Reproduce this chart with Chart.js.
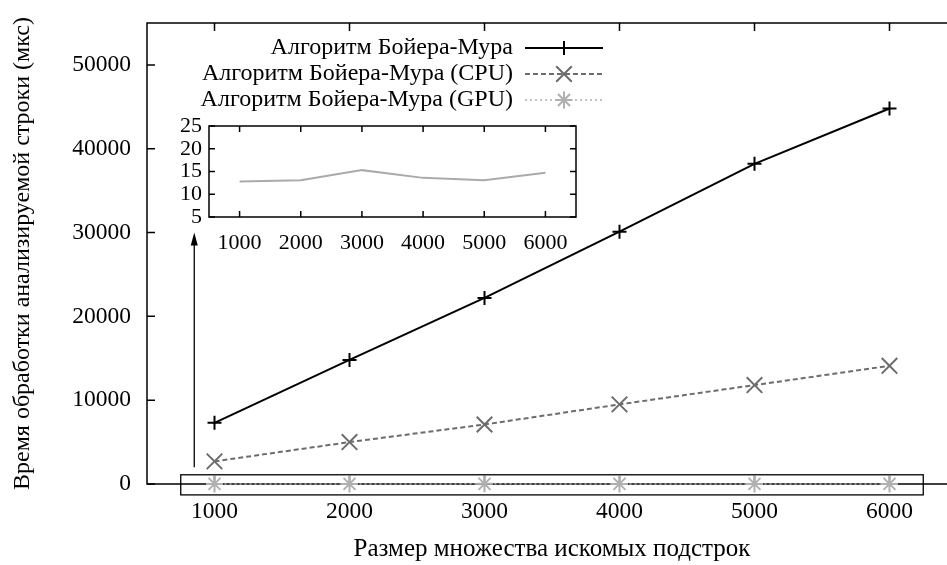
<!DOCTYPE html>
<html>
<head>
<meta charset="utf-8">
<script src="https://cdn.jsdelivr.net/npm/chart.js@4.4.1/dist/chart.umd.min.js"></script>
<style>
  html, body { margin: 0; padding: 0; overflow: hidden; background: #fff; width: 947px; height: 565px; }
  #mainChart { position: absolute; left: 0; top: 0; }
  #insetChart { position: absolute; left: 140px; top: 110px; }
</style>
</head>
<body>
<canvas id="mainChart" width="975" height="565"></canvas>
<canvas id="insetChart" width="460" height="150"></canvas>
<script>
// Data
const sizes = [1000, 2000, 3000, 4000, 5000, 6000];
const bmTimes = [7300, 14800, 22200, 30100, 38200, 44800];
const cpuTimes = [2700, 5000, 7100, 9500, 11800, 14100];
const gpuTimes = [12.8, 13.1, 15.3, 13.6, 13.1, 14.7];

const seriesNames = ['Алгоритм Бойера-Мура', 'Алгоритм Бойера-Мура (CPU)', 'Алгоритм Бойера-Мура (GPU)'];
const yTicksMain = [0, 10000, 20000, 30000, 40000, 50000];
const yTicksInset = [5, 10, 15, 20, 25];
const xTitle = 'Размер множества искомых подстрок';
const yTitle = 'Время обработки анализируемой строки (мкс)';

const FONT = '"Liberation Serif", "DejaVu Serif", serif';
Chart.defaults.font.family = FONT;
Chart.defaults.font.size = 24;
Chart.defaults.color = '#000';

function points(ys) {
    return sizes.map((s, i) => ({ x: s, y: ys[i] }));
}

// fixed box sizes so the plot area lands where the original has it
function fixSize(s, w, h) {
    if (w !== null) s.width = w;
    if (h !== null) s.height = h;
    s.paddingTop = 0; s.paddingBottom = 0;
    s.paddingLeft = 0; s.paddingRight = 0;
}

function drawMarker(ctx, style, x, y, r) {
    ctx.beginPath();
    if (style === 'cross' || style === 'star') {
        ctx.moveTo(x - r, y); ctx.lineTo(x + r, y);
        ctx.moveTo(x, y - r); ctx.lineTo(x, y + r);
    }
    if (style === 'crossRot' || style === 'star') {
        const d = r * Math.SQRT1_2;
        ctx.moveTo(x - d, y - d); ctx.lineTo(x + d, y + d);
        ctx.moveTo(x - d, y + d); ctx.lineTo(x + d, y - d);
    }
    ctx.stroke();
}

// border box + inward ticks on all four sides
const framePlugin = {
    id: 'frame',
    beforeDatasetsDraw(chart, args, opts) {
        const { ctx, chartArea: a, scales: { x, y } } = chart;
        ctx.save();
        ctx.strokeStyle = '#000';
        ctx.lineWidth = opts.lineWidth;
        ctx.strokeRect(a.left, a.top, a.right - a.left, a.bottom - a.top);
        const t = opts.tick;
        ctx.beginPath();
        x.ticks.forEach(tk => {
            const px = x.getPixelForValue(tk.value);
            ctx.moveTo(px, a.bottom); ctx.lineTo(px, a.bottom - t);
            ctx.moveTo(px, a.top); ctx.lineTo(px, a.top + t);
        });
        y.ticks.forEach(tk => {
            const py = y.getPixelForValue(tk.value);
            ctx.moveTo(a.left, py); ctx.lineTo(a.left + t, py);
            ctx.moveTo(a.right, py); ctx.lineTo(a.right - t, py);
        });
        ctx.stroke();
        ctx.restore();
    }
};

// zoom box round the GPU points, arrow to the inset, and the legend
const extrasPlugin = {
    id: 'extras',
    afterDatasetsDraw(chart) {
        const { ctx, scales: { x, y } } = chart;
        ctx.save();
        ctx.strokeStyle = '#000';
        ctx.fillStyle = '#000';
        ctx.lineWidth = 1.3;
        const bx1 = x.getPixelForValue(750), bx2 = x.getPixelForValue(6250);
        const by1 = y.getPixelForValue(1100), by2 = y.getPixelForValue(-1300);
        ctx.strokeRect(bx1, by1, bx2 - bx1, by2 - by1);

        const ax = x.getPixelForValue(850);
        const ay1 = y.getPixelForValue(2000), ay2 = y.getPixelForValue(30000);
        ctx.beginPath();
        ctx.moveTo(ax, ay1); ctx.lineTo(ax, ay2 + 10);
        ctx.stroke();
        ctx.beginPath();
        ctx.moveTo(ax, ay2); ctx.lineTo(ax - 3.5, ay2 + 13); ctx.lineTo(ax + 3.5, ay2 + 13);
        ctx.closePath();
        ctx.fill();

        ctx.font = '24px ' + FONT;
        ctx.textAlign = 'right';
        ctx.textBaseline = 'middle';
        chart.data.datasets.forEach((ds, i) => {
            const ly = 48 + i * 26;
            ctx.fillStyle = '#000';
            ctx.fillText(ds.label, 513, ly);
            ctx.strokeStyle = ds.borderColor;
            ctx.lineWidth = ds.borderWidth;
            ctx.setLineDash(ds.borderDash || []);
            ctx.beginPath();
            ctx.moveTo(525, ly); ctx.lineTo(603, ly);
            ctx.stroke();
            ctx.setLineDash([]);
            ctx.lineWidth = ds.pointBorderWidth;
            drawMarker(ctx, ds.pointStyle, 564, ly, ds.pointRadius);
        });
        ctx.restore();
    }
};

new Chart(document.getElementById('mainChart'), {
    type: 'line',
    data: {
        datasets: [{
            label: seriesNames[0],
            data: points(bmTimes),
            borderColor: '#000',
            borderWidth: 2,
            pointStyle: 'cross',
            pointRadius: 7,
            pointBorderWidth: 2,
            pointBorderColor: '#000',
            clip: false
        }, {
            label: seriesNames[1],
            data: points(cpuTimes),
            borderColor: '#6c6c6c',
            borderDash: [5, 3],
            borderWidth: 2,
            pointStyle: 'crossRot',
            pointRadius: 11,
            pointBorderWidth: 2,
            pointBorderColor: '#6c6c6c',
            clip: false
        }, {
            label: seriesNames[2],
            data: points(gpuTimes),
            borderColor: '#b0b0b0',
            borderDash: [2, 3],
            borderWidth: 1.5,
            pointStyle: 'star',
            pointRadius: 8.5,
            pointBorderWidth: 2,
            pointBorderColor: '#b0b0b0',
            clip: false
        }]
    },
    options: {
        responsive: false,
        animation: false,
        layout: { padding: { left: 0, top: 23, right: 18, bottom: 0 } },
        plugins: {
            legend: { display: false },
            tooltip: { enabled: false },
            frame: { lineWidth: 1.5, tick: 8 }
        },
        scales: {
            x: {
                type: 'linear',
                min: 500,
                max: 6500,
                afterBuildTicks: s => { s.ticks = sizes.map(v => ({ value: v })); },
                afterFit: s => fixSize(s, null, 81),
                grid: { display: false, drawTicks: false },
                border: { display: false },
                ticks: { padding: 14, autoSkip: false, maxRotation: 0, font: { size: 23.5 }, callback: v => String(v) },
                title: { display: true, text: xTitle, font: { size: 25 }, padding: { top: 0, bottom: 1 } }
            },
            y: {
                min: 0,
                max: 55000,
                afterBuildTicks: s => { s.ticks = yTicksMain.map(v => ({ value: v })); },
                afterFit: s => fixSize(s, 147, null),
                grid: { display: false, drawTicks: false },
                border: { display: false },
                ticks: { padding: 16, autoSkip: false, font: { size: 23.5 }, callback: v => String(v) },
                title: { display: true, text: yTitle, padding: { top: 8.5, bottom: 0 } }
            }
        }
    },
    plugins: [framePlugin, extrasPlugin]
});

new Chart(document.getElementById('insetChart'), {
    type: 'line',
    data: {
        datasets: [{
            label: seriesNames[2],
            data: points(gpuTimes),
            borderColor: '#aaaaaa',
            borderWidth: 2,
            pointRadius: 0
        }]
    },
    options: {
        responsive: false,
        animation: false,
        layout: { padding: { left: 0, top: 16, right: 24, bottom: 0 } },
        plugins: {
            legend: { display: false },
            tooltip: { enabled: false },
            frame: { lineWidth: 1.5, tick: 6 }
        },
        scales: {
            x: {
                type: 'linear',
                min: 500,
                max: 6500,
                afterBuildTicks: s => { s.ticks = sizes.map(v => ({ value: v })); },
                afterFit: s => fixSize(s, null, 43),
                grid: { display: false, drawTicks: false },
                border: { display: false },
                ticks: { padding: 13, autoSkip: false, maxRotation: 0, font: { size: 22 }, callback: v => String(v) }
            },
            y: {
                min: 5,
                max: 25,
                afterBuildTicks: s => { s.ticks = yTicksInset.map(v => ({ value: v })); },
                afterFit: s => fixSize(s, 69, null),
                grid: { display: false, drawTicks: false },
                border: { display: false },
                ticks: { padding: 7, autoSkip: false, font: { size: 22 }, callback: v => String(v) }
            }
        }
    },
    plugins: [framePlugin]
});
</script>
</body>
</html>
